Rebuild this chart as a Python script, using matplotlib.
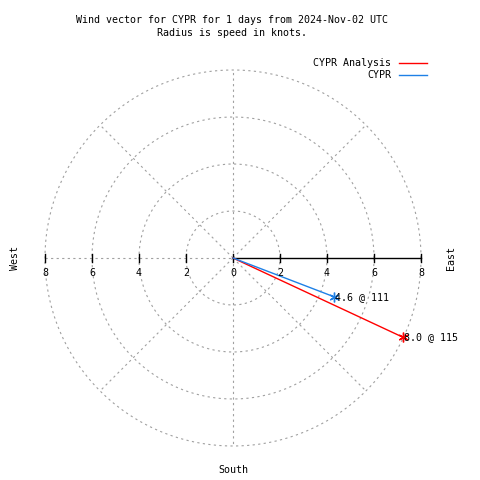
import matplotlib
matplotlib.use('Agg')
import matplotlib.pyplot as plt
import numpy as np

# wind vectors: speed (knots) and direction (deg, clockwise from north)
names = ['CYPR Analysis', 'CYPR']
speeds = [8.0, 4.6]
dirs = [115, 111]
colors = ['#ff0000', '#1e80e6']

rings = [2, 4, 6, 8]
tick_vals = [-8, -6, -4, -2, 0, 2, 4, 6, 8]

W = 480
cx, cy, scale = 233, 258, 23.5  # centre pixel, pixels per knot
FONT = 'DejaVu Sans Mono'
FS = 7.2

fig = plt.figure(figsize=(4.8, 4.8), dpi=100)
ax = fig.add_axes([0, 0, 1, 1])
ax.set_xlim(-cx / scale, (W - cx) / scale)
ax.set_ylim(-(W - cy) / scale, cy / scale)
ax.axis('off')

def fx(px):
    return px / W

def fy(py):
    return 1 - py / W

grid = dict(color='#a0a0a0', lw=0.8, ls=(0, (2, 3)))

# rings
t = np.linspace(0, 2 * np.pi, 400)
for r in rings:
    ax.plot(r * np.cos(t), r * np.sin(t), **grid)

# radial grid lines
R = rings[-1]
for a in [45, 90, 135, 225, 270, 315]:
    ax.plot([0, R * np.cos(np.radians(a))], [0, R * np.sin(np.radians(a))], **grid)
ax.plot([-R, 0], [0, 0], **grid)
ax.plot([0, R], [0, 0], color='black', lw=1.0)

# ticks
tk = 4 / scale
for v in tick_vals:
    ax.plot([v, v], [-tk, tk], color='black', lw=1.0)
    ax.text(v, -10 / scale, str(abs(v)), ha='center', va='top',
            family=FONT, fontsize=FS)

# vectors
for name, s, d, c in zip(names, speeds, dirs, colors):
    x = s * np.sin(np.radians(d))
    y = s * np.cos(np.radians(d))
    ax.plot([0, x], [0, y], color=c, lw=1.0)
    ax.plot([x], [y], marker=(6, 2, 0), color=c, ms=7, mew=1.0)
    ax.text(x + 1 / scale, y, '%.1f @ %d' % (s, d), ha='left', va='center',
            family=FONT, fontsize=FS)

# titles and labels
fig.text(fx(232), fy(20), 'Wind vector for CYPR for 1 days from 2024-Nov-02 UTC',
         ha='center', va='center', family=FONT, fontsize=FS)
fig.text(fx(232), fy(33), 'Radius is speed in knots.',
         ha='center', va='center', family=FONT, fontsize=FS)
fig.text(fx(15), fy(258), 'West', rotation=90, ha='center', va='center',
         family=FONT, fontsize=FS)
fig.text(fx(451), fy(258), 'East', rotation=90, ha='center', va='center',
         family=FONT, fontsize=FS)
fig.text(fx(233), fy(470), 'South', ha='center', va='center',
         family=FONT, fontsize=FS)

# legend
for i, (name, c) in enumerate(zip(names, colors)):
    py = 63 + 12 * i
    fig.text(fx(391), fy(py), name, ha='right', va='center', family=FONT, fontsize=FS)
    fig.add_artist(plt.Line2D([fx(399), fx(427)], [fy(py), fy(py)], color=c, lw=1.0))

fig.savefig('out.png', dpi=100)
